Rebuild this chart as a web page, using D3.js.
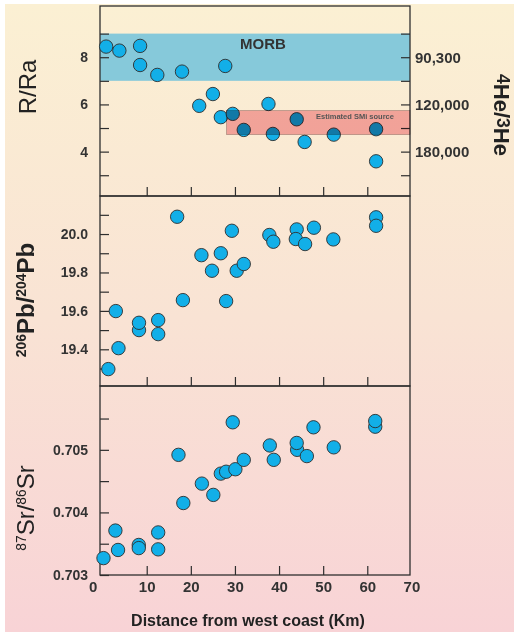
<!DOCTYPE html>
<html>
<head>
<meta charset="utf-8">
<script src="https://cdn.jsdelivr.net/npm/d3@7"></script>
<style>
  body { margin: 0; background: #fff; }
  svg { display: block; }
  text { font-family: "Liberation Sans", Arial, Helvetica, sans-serif; }
</style>
</head>
<body>
<svg id="chart" width="514" height="632"></svg>
<script>
// Helium isotopes (R/Ra) against distance from the west coast
const heDist  = [0.8, 3.8, 8.5, 8.5, 12.4, 18.0, 27.8, 21.9, 25.0, 26.8, 29.5, 32.0, 37.6, 38.6, 44.0, 45.8, 52.4, 62.0, 62.0];
const heRatio = [8.45, 8.28, 8.48, 7.67, 7.25, 7.39, 7.63, 5.94, 6.44, 5.46, 5.60, 4.92, 6.02, 4.75, 5.37, 4.41, 4.72, 4.95, 3.59];

// Lead isotopes (206Pb/204Pb)
const pbDist  = [1.3, 3.0, 3.6, 8.25, 8.25, 12.6, 12.6, 16.9, 18.2, 22.4, 24.8, 26.8, 28.0, 29.3, 30.4, 32.0, 37.8, 38.7, 44.0, 43.8, 45.9, 47.9, 52.3, 62.0, 62.0];
const pbRatio = [19.297, 19.599, 19.406, 19.50, 19.538, 19.552, 19.479, 20.09, 19.656, 19.89, 19.809, 19.90, 19.651, 20.017, 19.809, 19.844, 19.995, 19.96, 20.024, 19.974, 19.948, 20.033, 19.972, 20.087, 20.043];

// Strontium isotopes (87Sr/86Sr)
const srDist  = [0.2, 2.9, 3.5, 8.2, 8.2, 12.6, 12.6, 17.2, 18.3, 22.5, 25.1, 26.8, 28.0, 29.5, 30.1, 32.0, 37.9, 38.8, 44.1, 44.0, 46.3, 47.8, 52.4, 61.8, 61.8];
const srRatio = [0.70327, 0.70371, 0.70340, 0.70348, 0.70343, 0.70368, 0.70341, 0.70492, 0.70415, 0.70446, 0.70428, 0.70462, 0.70465, 0.70544, 0.70469, 0.70484, 0.70507, 0.70484, 0.70500, 0.70511, 0.70490, 0.70536, 0.70504, 0.70537, 0.70546];

// Reference ranges (R/Ra)
const morbRange = [7, 9];
const smiRange  = [4.72, 5.74];
const smiStart  = 28.1;

// Axis ticks and labels
const xTicks     = [10, 20, 30, 40, 50, 60];
const xLabels    = [0, 10, 20, 30, 40, 50, 60, 70];
const heTicks    = [3, 4, 5, 6, 7, 8, 9];
const heLabels   = [4, 6, 8];
const he43Labels = ["180,000", "120,000", "90,300"]; // at R/Ra = 4, 6, 8
const pbTicks    = [19.3, 19.4, 19.5, 19.6, 19.7, 19.8, 19.9, 20.0, 20.1];
const pbLabels   = [19.4, 19.6, 19.8, 20.0];
const srTicks    = [0.703, 0.7035, 0.704, 0.7045, 0.705, 0.7055];
const srLabels   = [0.703, 0.704, 0.705];

const svg = d3.select("#chart");
const left = 100, right = 410;
const ink = "#2e2e2e";

// Page background
const defs = svg.append("defs");
const grad = defs.append("linearGradient").attr("id", "bg")
  .attr("x1", 0).attr("y1", 0).attr("x2", 0).attr("y2", 1);
grad.append("stop").attr("offset", "0%").attr("stop-color", "#fbf0d3");
grad.append("stop").attr("offset", "50%").attr("stop-color", "#f9e3d4");
grad.append("stop").attr("offset", "100%").attr("stop-color", "#f8d3d6");
svg.append("rect").attr("x", 5).attr("y", 4).attr("width", 509).attr("height", 628)
  .attr("fill", "url(#bg)");

const x = d3.scaleLinear().domain([0, 70]).range([102.6, 411.4]);

const panels = [
  { top: 6,   bottom: 196, y: d3.scaleLinear().domain([2.12, 10.17]).range([196, 6]),
    ticks: heTicks, labels: heLabels, fmt: d3.format("d"), xs: heDist, ys: heRatio },
  { top: 196, bottom: 386, y: d3.scaleLinear().domain([19.209, 20.198]).range([386, 196]),
    ticks: pbTicks, labels: pbLabels, fmt: d3.format(".1f"), xs: pbDist, ys: pbRatio },
  { top: 386, bottom: 575, y: d3.scaleLinear().domain([0.703, 0.70602]).range([575, 386]),
    ticks: srTicks, labels: srLabels, fmt: d3.format(".3f"), xs: srDist, ys: srRatio }
];

const y1 = panels[0].y;

// MORB band
svg.append("rect")
  .attr("x", left).attr("width", right - left)
  .attr("y", y1(morbRange[1])).attr("height", y1(morbRange[0]) - y1(morbRange[1]))
  .attr("fill", "#86c9da");
svg.append("text").attr("x", 263).attr("y", y1(9) + 15)
  .attr("text-anchor", "middle").attr("font-size", 15).attr("font-weight", "bold")
  .attr("fill", "#333").text("MORB");

function styleAxis(g) {
  g.select(".domain").remove();
  g.selectAll(".tick line").attr("stroke", ink).attr("stroke-width", 1.2);
  g.selectAll(".tick text").attr("fill", "#333").attr("font-size", 14)
    .attr("font-weight", "bold").attr("font-family", "'Liberation Sans', Arial, sans-serif");
}

panels.forEach((p, i) => {
  // Left axis, ticks pointing inward
  svg.append("g").attr("transform", `translate(${left},0)`)
    .call(d3.axisLeft(p.y).tickValues(p.ticks).tickSizeInner(-9).tickSizeOuter(0).tickPadding(12)
      .tickFormat(d => p.labels.includes(d) ? p.fmt(d) : ""))
    .call(styleAxis);
  // Bottom ticks of each panel
  svg.append("g").attr("transform", `translate(0,${p.bottom})`)
    .call(d3.axisBottom(x).tickValues(xTicks).tickSizeInner(-9).tickSizeOuter(0).tickFormat(""))
    .call(styleAxis);
  // Frame
  svg.append("rect").attr("x", left).attr("y", p.top)
    .attr("width", right - left).attr("height", p.bottom - p.top)
    .attr("fill", "none").attr("stroke", ink).attr("stroke-width", 1.3);
});

// Right axis of the helium panel: 4He/3He equivalents
svg.append("g").attr("transform", `translate(${right},0)`)
  .call(d3.axisRight(y1).tickValues(heTicks).tickSizeInner(-9).tickSizeOuter(0).tickPadding(5)
    .tickFormat(d => { const k = heLabels.indexOf(d); return k >= 0 ? he43Labels[k] : ""; }))
  .call(styleAxis)
  .call(g => g.selectAll(".tick text").attr("font-size", 15));

// Distance labels under the bottom panel
svg.append("g").attr("transform", `translate(0,575)`)
  .call(d3.axisBottom(x).tickValues(xLabels).tickSize(0).tickPadding(6).tickFormat(d3.format("d")))
  .call(styleAxis)
  .call(g => g.selectAll(".tick text").attr("font-size", 15)
    .attr("dx", d => d === 0 ? -10 : 0));

// Data points
panels.forEach(p => {
  svg.append("g").selectAll("circle")
    .data(p.xs.map((d, k) => [d, p.ys[k]]))
    .join("circle")
    .attr("cx", d => x(d[0])).attr("cy", d => p.y(d[1])).attr("r", 6.7)
    .attr("fill", "#12afe8").attr("stroke", ink).attr("stroke-width", 0.9);
});

// Estimated SMI source band, laid over the points
svg.append("rect")
  .attr("x", x(smiStart)).attr("width", right - x(smiStart))
  .attr("y", y1(smiRange[1])).attr("height", y1(smiRange[0]) - y1(smiRange[1]))
  .attr("fill", "#f6b0b8").attr("stroke", "#a08888").attr("stroke-width", 0.6)
  .style("mix-blend-mode", "multiply");
svg.append("text").attr("x", 355).attr("y", y1(smiRange[1]) + 8)
  .attr("text-anchor", "middle").attr("font-size", 7.5).attr("font-weight", "bold")
  .attr("fill", "#555").text("Estimated SMi source");

// Axis titles
function title(xp, yp, rot, parts, size, weight, supScale, shift) {
  const t = svg.append("text").attr("transform", `translate(${xp},${yp}) rotate(${rot})`)
    .attr("text-anchor", "middle").attr("fill", "#222").attr("font-weight", weight)
    .attr("font-size", size);
  parts.forEach(([s, sup]) => {
    t.append("tspan").attr("font-size", sup ? size * supScale : size)
      .attr("baseline-shift", sup ? shift : null).text(s);
  });
  return t;
}
title(36, 87, -90, [["R/Ra", false]], 24, "normal", 0.58, "super");
title(34, 300, -90, [["206", true], ["Pb/", false], ["204", true], ["Pb", false]], 24, "bold", 0.58, "super");
title(34, 508, -90, [["87", true], ["Sr/", false], ["86", true], ["Sr", false]], 24, "normal", 0.58, "super");
title(494, 115, 90, [["4", true], ["He/", false], ["3", true], ["He", false]], 22, "bold", 0.8, "3px");

svg.append("text").attr("x", 248).attr("y", 626).attr("text-anchor", "middle")
  .attr("font-size", 16).attr("font-weight", "bold").attr("fill", "#222")
  .text("Distance from west coast (Km)");
</script>
</body>
</html>
